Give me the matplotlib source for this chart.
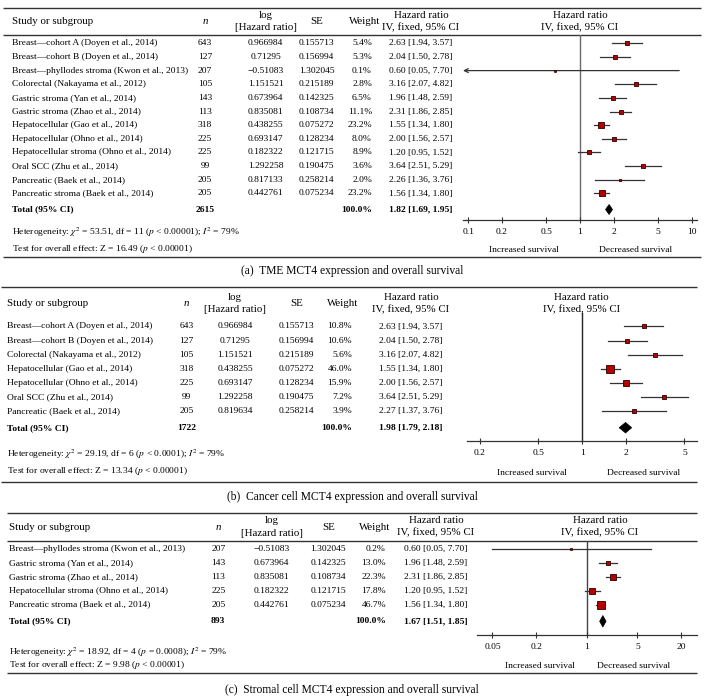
import matplotlib.pyplot as plt
import numpy as np
from matplotlib.patches import Polygon
from matplotlib.ticker import NullLocator

plt.rcParams['font.family'] = ['Liberation Serif', 'DejaVu Serif']
plt.rcParams['mathtext.fontset'] = 'stix'

# ---- data: (a) TME MCT4 expression
studies_a = ["Breast\u2014cohort A (Doyen et al., 2014)", "Breast\u2014cohort B (Doyen et al., 2014)",
             "Breast\u2014phyllodes stroma (Kwon et al., 2013)", "Colorectal (Nakayama et al., 2012)",
             "Gastric stroma (Yan et al., 2014)", "Gastric stroma (Zhao et al., 2014)",
             "Hepatocellular (Gao et al., 2014)", "Hepatocellular (Ohno et al., 2014)",
             "Hepatocellular stroma (Ohno et al., 2014)", "Oral SCC (Zhu et al., 2014)",
             "Pancreatic (Baek et al., 2014)", "Pancreatic stroma (Baek et al., 2014)"]
n_a = [643, 127, 207, 105, 143, 113, 318, 225, 225, 99, 205, 205]
log_a = ["0.966984", "0.71295", "\u22120.51083", "1.151521", "0.673964", "0.835081",
         "0.438255", "0.693147", "0.182322", "1.292258", "0.817133", "0.442761"]
se_a = ["0.155713", "0.156994", "1.302045", "0.215189", "0.142325", "0.108734",
        "0.075272", "0.128234", "0.121715", "0.190475", "0.258214", "0.075234"]
w_a = [5.4, 5.3, 0.1, 2.8, 6.5, 11.1, 23.2, 8.0, 8.9, 3.6, 2.0, 23.2]
hr_a = [2.63, 2.04, 0.60, 3.16, 1.96, 2.31, 1.55, 2.00, 1.20, 3.64, 2.26, 1.56]
lo_a = [1.94, 1.50, 0.05, 2.07, 1.48, 1.86, 1.34, 1.56, 0.95, 2.51, 1.36, 1.34]
hi_a = [3.57, 2.78, 7.70, 4.82, 2.59, 2.85, 1.80, 2.57, 1.52, 5.29, 3.76, 1.80]
total_a = [2615, 1.82, 1.69, 1.95]
het_a = ["53.51", "11", "< 0.00001", "79"]
test_a = ["16.49", "< 0.00001"]
ticks_a = [0.1, 0.2, 0.5, 1, 2, 5, 10]

# ---- data: (b) cancer cell MCT4 expression
studies_b = ["Breast\u2014cohort A (Doyen et al., 2014)", "Breast\u2014cohort B (Doyen et al., 2014)",
             "Colorectal (Nakayama et al., 2012)", "Hepatocellular (Gao et al., 2014)",
             "Hepatocellular (Ohno et al., 2014)", "Oral SCC (Zhu et al., 2014)",
             "Pancreatic (Baek et al., 2014)"]
n_b = [643, 127, 105, 318, 225, 99, 205]
log_b = ["0.966984", "0.71295", "1.151521", "0.438255", "0.693147", "1.292258", "0.819634"]
se_b = ["0.155713", "0.156994", "0.215189", "0.075272", "0.128234", "0.190475", "0.258214"]
w_b = [10.8, 10.6, 5.6, 46.0, 15.9, 7.2, 3.9]
hr_b = [2.63, 2.04, 3.16, 1.55, 2.00, 3.64, 2.27]
lo_b = [1.94, 1.50, 2.07, 1.34, 1.56, 2.51, 1.37]
hi_b = [3.57, 2.78, 4.82, 1.80, 2.57, 5.29, 3.76]
total_b = [1722, 1.98, 1.79, 2.18]
het_b = ["29.19", "6", "< 0.0001", "79"]
test_b = ["13.34", "< 0.00001"]
ticks_b = [0.2, 0.5, 1, 2, 5]

# ---- data: (c) stromal cell MCT4 expression
studies_c = ["Breast\u2014phyllodes stroma (Kwon et al., 2013)", "Gastric stroma (Yan et al., 2014)",
             "Gastric stroma (Zhao et al., 2014)", "Hepatocellular stroma (Ohno et al., 2014)",
             "Pancreatic stroma (Baek et al., 2014)"]
n_c = [207, 143, 113, 225, 205]
log_c = ["\u22120.51083", "0.673964", "0.835081", "0.182322", "0.442761"]
se_c = ["1.302045", "0.142325", "0.108734", "0.121715", "0.075234"]
w_c = [0.2, 13.0, 22.3, 17.8, 46.7]
hr_c = [0.60, 1.96, 2.31, 1.20, 1.56]
lo_c = [0.05, 1.48, 1.86, 0.95, 1.34]
hi_c = [7.70, 2.59, 2.85, 1.52, 1.80]
total_c = [893, 1.67, 1.51, 1.85]
het_c = ["18.92", "4", "= 0.0008", "79"]
test_c = ["9.98", "< 0.00001"]
ticks_c = [0.05, 0.2, 1, 5, 20]

captions = ["(a)  TME MCT4 expression and overall survival",
            "(b)  Cancer cell MCT4 expression and overall survival",
            "(c)  Stromal cell MCT4 expression and overall survival"]

W, H = 704, 700
FS = 6.8
FH = 7.8
FC = 8.3
LC = '#333333'

fig = plt.figure(figsize=(W / 100, H / 100), dpi=100)
bg = fig.add_axes([0, 0, 1, 1])
bg.set_xlim(0, W)
bg.set_ylim(H, 0)
bg.axis('off')


def hline(x0, x1, y):
    bg.plot([x0, x1], [y, y], color=LC, lw=1.0, solid_capstyle='butt')


def fmt_hr(h, l, u):
    return f"{h:.2f} [{l:.2f}, {u:.2f}]"


def panel(studies, n, logs, ses, w, hr, lo, hi, total, het, test, ticks, caption, L):
    # frame lines
    hline(L['x0'], L['x1'], L['top'])
    if L['hdr_line'] is not None:
        hline(L['x0'], L['x1'], L['hdr_line'])
    hline(L['x0'], L['x1'], L['bottom'])

    # header
    ym, y1, y2 = L['hdr']
    bg.text(L['sx'], ym, "Study or subgroup", fontsize=FH, va='center')
    bg.text(L['nx'], ym, "n", fontsize=FH, va='center', ha='center', style='italic')
    bg.text(L['lx'], y1, "log", fontsize=FH, va='center', ha='center')
    bg.text(L['lx'], y2, "[Hazard ratio]", fontsize=FH, va='center', ha='center')
    bg.text(L['sex'], ym, "SE", fontsize=FH, va='center', ha='center')
    bg.text(L['whx'], ym, "Weight", fontsize=FH, va='center', ha='center')
    for cx in (L['hx'], L['rx']):
        bg.text(cx, y1, "Hazard ratio", fontsize=FH, va='center', ha='center')
        bg.text(cx, y2, "IV, fixed, 95% CI", fontsize=FH, va='center', ha='center')

    rows = L['r0'] + L['dy'] * np.arange(len(studies))
    for i, y in enumerate(rows):
        bg.text(L['sx'], y, studies[i], fontsize=FS, va='center')
        bg.text(L['nx'], y, str(n[i]), fontsize=FS, va='center', ha='center')
        bg.text(L['lx'], y, logs[i], fontsize=FS, va='center', ha='center')
        bg.text(L['sex'], y, ses[i], fontsize=FS, va='center', ha='center')
        bg.text(L['wx'], y, f"{w[i]:.1f}%", fontsize=FS, va='center', ha='right')
        bg.text(L['hx'], y, fmt_hr(hr[i], lo[i], hi[i]), fontsize=FS, va='center', ha='center')

    yt = L['tot']
    bg.text(L['sx'], yt, "Total (95% CI)", fontsize=FS, va='center', weight='bold')
    bg.text(L['nx'], yt, str(total[0]), fontsize=FS, va='center', ha='center', weight='bold')
    bg.text(L['wx'], yt, "100.0%", fontsize=FS, va='center', ha='right', weight='bold')
    bg.text(L['hx'], yt, fmt_hr(*total[1:]), fontsize=FS, va='center', ha='center', weight='bold')

    bg.text(L['sx'], L['het'],
            f"Heterogeneity: $\\chi^2$ = {het[0]}, df = {het[1]} ($p$ {het[2]}); $I^2$ = {het[3]}%",
            fontsize=FS, va='center')
    bg.text(L['sx'], L['test'], f"Test for overall effect: Z = {test[0]} ($p$ {test[1]})",
            fontsize=FS, va='center')
    bg.text(L['incx'], L['surv'], "Increased survival", fontsize=FS, va='center', ha='center')
    bg.text(L['decx'], L['surv'], "Decreased survival", fontsize=FS, va='center', ha='center')
    bg.text(352, L['cap'], caption, fontsize=FC, va='center', ha='center')

    # forest plot
    ax0, ax1, ay0, ay1 = L['ax']
    ax = fig.add_axes([ax0 / W, 1 - ay1 / H, (ax1 - ax0) / W, (ay1 - ay0) / H])
    ax.set_xscale('log')
    ax.set_xlim(L['xlim'])
    ax.set_ylim(ay1, ay0)
    ax.patch.set_alpha(0)
    for s in ('top', 'left', 'right'):
        ax.spines[s].set_visible(False)
    ax.spines['bottom'].set_linewidth(0.9)
    ax.spines['bottom'].set_color(LC)
    ax.set_yticks([])
    ax.set_xticks(ticks)
    ax.set_xticklabels([f"{t:g}" for t in ticks])
    ax.xaxis.set_minor_locator(NullLocator())
    ax.tick_params(axis='x', direction='inout', length=5, width=0.8, color=LC,
                   labelsize=FS, pad=3.2)
    ax.axvline(1, color=L['vcol'], lw=1.0, zorder=1)

    for i, y in enumerate(rows):
        if lo[i] < L['xlim'][0]:
            ax.annotate('', xy=(L['xlim'][0], y), xytext=(hi[i], y),
                        arrowprops=dict(arrowstyle='->', lw=0.9, color=LC,
                                        shrinkA=0, shrinkB=0, mutation_scale=7))
        else:
            ax.plot([lo[i], hi[i]], [y, y], color=LC, lw=0.9, zorder=2)
        side = 1.5 + 0.9 * np.sqrt(w[i])
        ax.plot(hr[i], y, marker='s', ms=side * 0.72, mfc='#b40000', mec='#2a0000',
                mew=0.6, zorder=3)

    hh = L['dh'] / 2
    ax.add_patch(Polygon([(total[2], yt), (total[1], yt - hh), (total[3], yt), (total[1], yt + hh)],
                         closed=True, fc='black', ec='black', lw=0.5, zorder=3))


lay_a = dict(x0=3, x1=701, top=7.5, hdr_line=35, bottom=257, hdr=(21, 15, 27.5),
             sx=11.7, nx=205, lx=265.7, sex=316.7, whx=365, wx=372, hx=421, rx=580,
             r0=43.3, dy=13.65, tot=209.5, het=232, test=249, surv=250,
             incx=524, decx=636, cap=271, ax=(463, 697, 35, 220.5),
             xlim=(0.09, 11.1), dh=10, vcol='#6a6a6a')
lay_b = dict(x0=1, x1=697, top=287, hdr_line=None, bottom=481.7, hdr=(303, 297, 310),
             sx=7.3, nx=186.7, lx=235, sex=296.7, whx=343, wx=352, hx=411, rx=581.7,
             r0=326.5, dy=14.05, tot=427.7, het=454.3, test=470.7, surv=473.3,
             incx=531.7, decx=643.3, cap=497, ax=(467, 697, 313, 441.5),
             xlim=(0.163, 6.1), dh=10.5, vcol='#222222')
lay_c = dict(x0=7, x1=697, top=513.3, hdr_line=541, bottom=672.7, hdr=(527, 520.5, 533),
             sx=9.3, nx=218.3, lx=271.7, sex=328.3, whx=375, wx=386, hx=436, rx=600,
             r0=549, dy=13.9, tot=621.3, het=652.5, test=665, surv=665.7,
             incx=540, decx=633.3, cap=690, ax=(476.7, 696.7, 541, 635),
             xlim=(0.0303, 33), dh=11.5, vcol='#444444')

panel(studies_a, n_a, log_a, se_a, w_a, hr_a, lo_a, hi_a, total_a, het_a, test_a, ticks_a,
      captions[0], lay_a)
panel(studies_b, n_b, log_b, se_b, w_b, hr_b, lo_b, hi_b, total_b, het_b, test_b, ticks_b,
      captions[1], lay_b)
panel(studies_c, n_c, log_c, se_c, w_c, hr_c, lo_c, hi_c, total_c, het_c, test_c, ticks_c,
      captions[2], lay_c)

fig.savefig('out.png', dpi=100, facecolor='white')
